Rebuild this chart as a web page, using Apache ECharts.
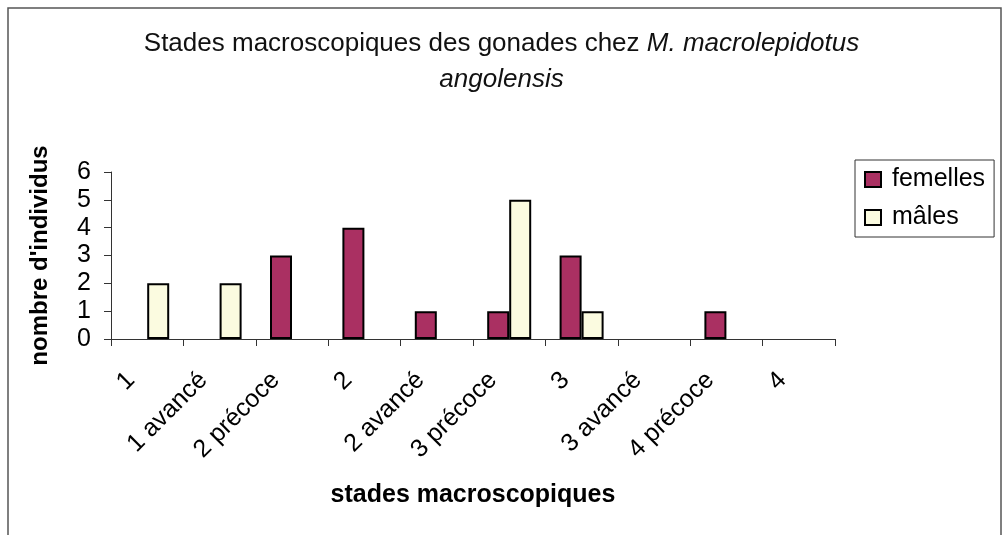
<!DOCTYPE html>
<html>
<head>
<meta charset="utf-8">
<script src="https://cdn.jsdelivr.net/npm/echarts@6/dist/echarts.min.js"></script>
<style>
  html, body { margin: 0; padding: 0; background: #fff; }
  #main { width: 1003px; height: 535px; }
</style>
</head>
<body>
<div id="main"></div>
<script>
// stades macroscopiques
const stades = ['1', '1 avancé', '2 précoce', '2', '2 avancé', '3 précoce', '3', '3 avancé', '4 précoce', '4'];
const femelles = [0, 0, 3, 4, 1, 1, 3, 0, 1, 0];
const males = [2, 2, 0, 0, 0, 5, 1, 0, 0, 0];
const yTicks = [0, 1, 2, 3, 4, 5, 6];

const chart = echarts.init(document.getElementById('main'), null, { renderer: 'canvas' });

// barres a zero : on ne les dessine pas
const toData = arr => arr.map(v => (v === 0 ? null : v));

const FONT = '"Liberation Sans", Arial, sans-serif';

const option = {
  backgroundColor: '#fff',
  animation: false,
  textStyle: { fontFamily: FONT, color: '#000' },
  graphic: [
    {
      type: 'rect',
      shape: { x: 8, y: 8, width: 993, height: 540 },
      style: { fill: 'none', stroke: '#555', lineWidth: 1.5 }
    }
  ],
  title: {
    text: '{n|Stades macroscopiques des gonades chez }{i|M. macrolepidotus}\n{i|angolensis}',
    left: 'center',
    top: 21,
    textStyle: {
      fontWeight: 'normal',
      rich: {
        n: { fontSize: 26, fontFamily: FONT, fontWeight: 'normal', color: '#111', lineHeight: 36 },
        i: { fontSize: 26, fontFamily: FONT, fontWeight: 'normal', fontStyle: 'italic', color: '#111', lineHeight: 36 }
      }
    }
  },
  legend: {
    orient: 'vertical',
    left: 855,
    top: 160,
    padding: [7, 9, 7, 9],
    itemGap: 13,
    itemWidth: 16,
    itemHeight: 15,
    borderColor: '#333',
    borderWidth: 1,
    icon: 'rect',
    textStyle: { fontSize: 25, color: '#000', padding: [0, 0, 0, 6] },
    data: ['femelles', 'mâles']
  },
  grid: { left: 111, right: 168, top: 172, bottom: 196 },
  xAxis: {
    type: 'category',
    data: stades,
    name: 'stades macroscopiques',
    nameLocation: 'middle',
    nameGap: 144,
    nameTextStyle: { fontSize: 25, fontWeight: 'bold', color: '#000' },
    axisLine: { lineStyle: { color: '#333', width: 1 } },
    axisTick: { show: true, length: 7, lineStyle: { color: '#333' } },
    axisLabel: { rotate: 45, fontSize: 25, color: '#000', margin: 21, padding: [0, 23, 0, 0], interval: 0 }
  },
  yAxis: {
    type: 'value',
    min: yTicks[0],
    max: yTicks[yTicks.length - 1],
    interval: 1,
    name: "nombre d'individus",
    nameLocation: 'middle',
    nameGap: 59,
    nameTextStyle: { fontSize: 24, fontWeight: 'bold', color: '#000' },
    axisLine: { show: true, lineStyle: { color: '#333', width: 1 } },
    axisTick: { show: true, length: 7, lineStyle: { color: '#333' } },
    axisLabel: { fontSize: 25, color: '#000', margin: 20 },
    splitLine: { show: false }
  },
  series: [
    {
      name: 'femelles',
      type: 'bar',
      data: toData(femelles),
      barWidth: 22,
      barGap: '0%',
      itemStyle: { color: '#AA3062', borderColor: '#000', borderWidth: 2 }
    },
    {
      name: 'mâles',
      type: 'bar',
      data: toData(males),
      barWidth: 22,
      barGap: '0%',
      itemStyle: { color: '#FBFBE0', borderColor: '#000', borderWidth: 2 }
    }
  ]
};

chart.setOption(option);
</script>
</body>
</html>
